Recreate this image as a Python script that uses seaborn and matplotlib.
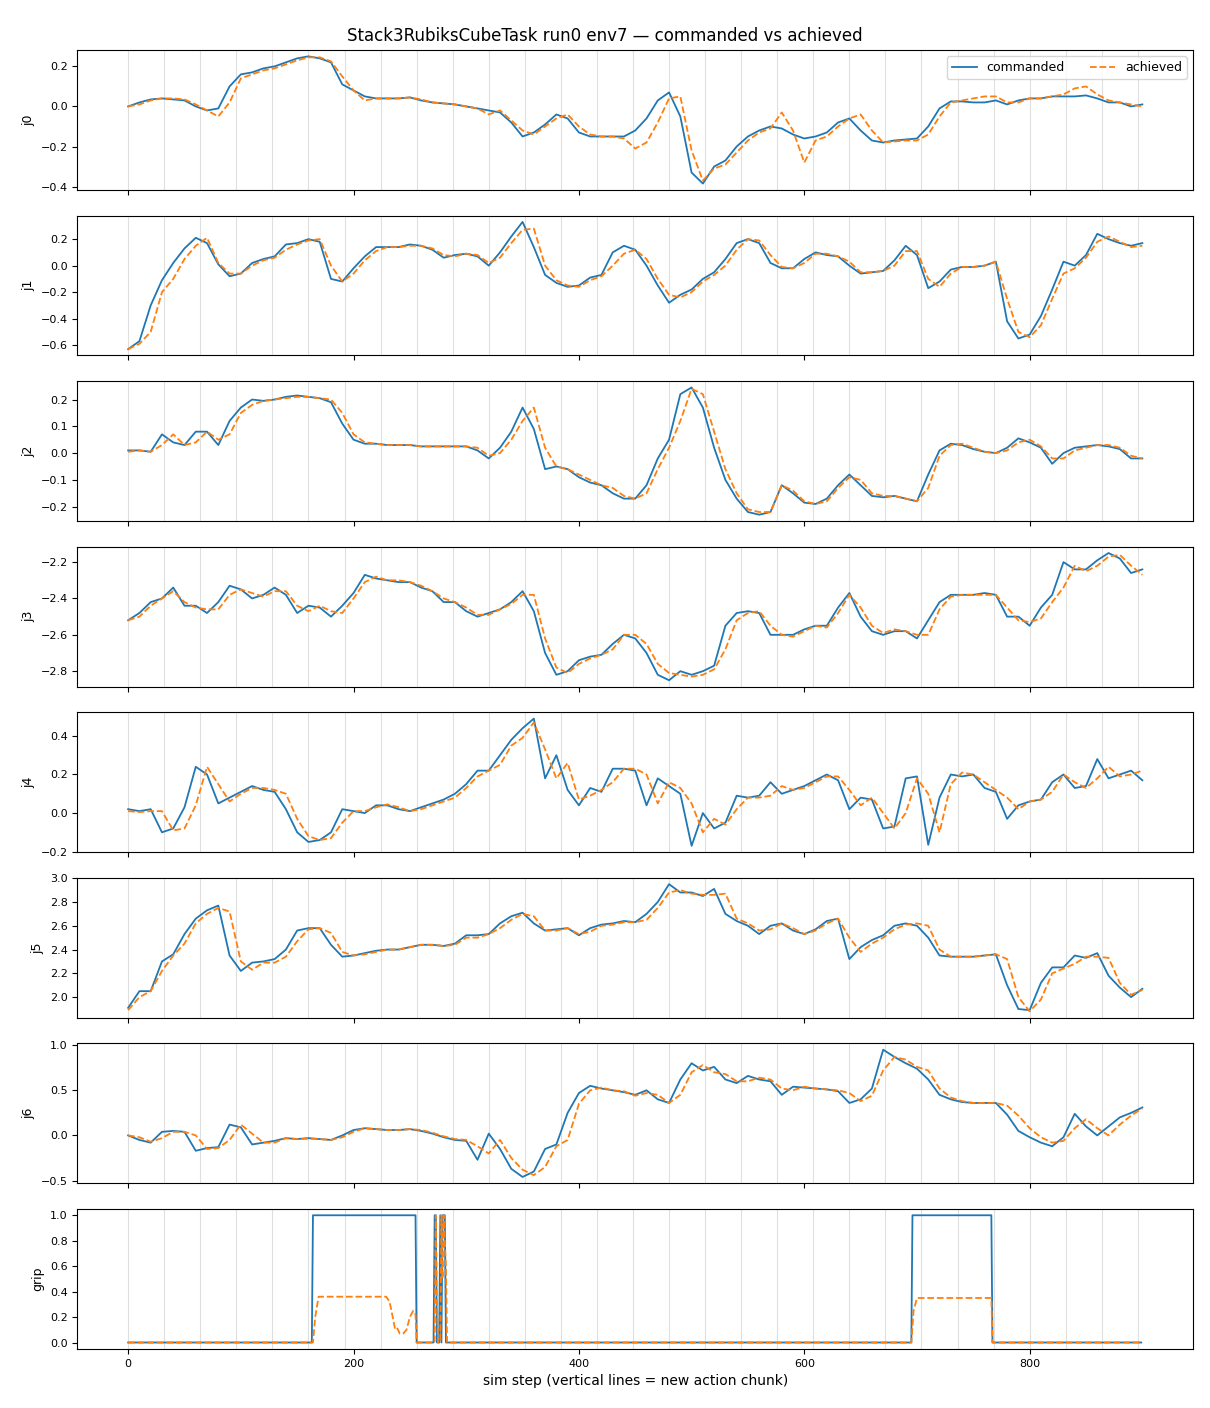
import numpy as np
import pandas as pd
import seaborn as sns
import matplotlib.pyplot as plt

# values every 10 sim steps
steps = np.arange(0, 901, 10)
chunk_size = 32

j0_cmd = [0.00, 0.02, 0.035, 0.04, 0.035, 0.03, 0.00, -0.02, -0.01, 0.10,
          0.16, 0.17, 0.19, 0.20, 0.22, 0.24, 0.25, 0.24, 0.22, 0.11,
          0.08, 0.05, 0.04, 0.04, 0.04, 0.045, 0.03, 0.02, 0.015, 0.01,
          0.00, -0.01, -0.02, -0.03, -0.08, -0.15, -0.13, -0.09, -0.04, -0.06,
          -0.13, -0.15, -0.15, -0.15, -0.15, -0.12, -0.06, 0.03, 0.07, -0.05,
          -0.33, -0.385, -0.30, -0.27, -0.20, -0.15, -0.12, -0.10, -0.11, -0.14,
          -0.16, -0.15, -0.13, -0.08, -0.06, -0.12, -0.17, -0.18, -0.17, -0.165,
          -0.16, -0.10, -0.01, 0.025, 0.025, 0.02, 0.02, 0.03, 0.01, 0.03,
          0.04, 0.04, 0.05, 0.05, 0.05, 0.055, 0.04, 0.02, 0.02, 0.00,
          0.01]
j0_ach = [0.00, 0.01, 0.03, 0.04, 0.04, 0.035, 0.01, -0.02, -0.05, 0.02,
          0.14, 0.16, 0.18, 0.19, 0.21, 0.23, 0.245, 0.245, 0.225, 0.15,
          0.08, 0.03, 0.04, 0.04, 0.04, 0.045, 0.035, 0.02, 0.015, 0.01,
          0.00, -0.01, -0.04, -0.02, -0.07, -0.12, -0.14, -0.10, -0.06, -0.04,
          -0.10, -0.14, -0.15, -0.15, -0.16, -0.21, -0.18, -0.08, 0.04, 0.05,
          -0.22, -0.37, -0.31, -0.29, -0.23, -0.17, -0.13, -0.11, -0.03, -0.12,
          -0.28, -0.17, -0.15, -0.10, -0.06, -0.04, -0.12, -0.18, -0.175, -0.17,
          -0.17, -0.14, -0.05, 0.02, 0.03, 0.04, 0.05, 0.05, 0.02, 0.02,
          0.04, 0.04, 0.05, 0.06, 0.09, 0.10, 0.06, 0.03, 0.02, 0.01,
          0.00]

j1_cmd = [-0.63, -0.57, -0.30, -0.11, 0.02, 0.13, 0.21, 0.17, 0.01, -0.08,
          -0.06, 0.02, 0.05, 0.07, 0.16, 0.17, 0.20, 0.18, -0.10, -0.12,
          -0.02, 0.07, 0.14, 0.14, 0.14, 0.16, 0.15, 0.12, 0.06, 0.08,
          0.09, 0.07, 0.00, 0.10, 0.22, 0.33, 0.14, -0.07, -0.13, -0.16,
          -0.15, -0.09, -0.07, 0.10, 0.15, 0.12, 0.00, -0.15, -0.28, -0.22,
          -0.18, -0.10, -0.05, 0.05, 0.17, 0.20, 0.17, 0.02, -0.02, -0.02,
          0.05, 0.10, 0.08, 0.07, 0.00, -0.06, -0.05, -0.04, 0.04, 0.15,
          0.08, -0.17, -0.12, -0.03, -0.01, -0.01, 0.00, 0.03, -0.42, -0.55,
          -0.52, -0.38, -0.18, 0.03, 0.00, 0.08, 0.24, 0.20, 0.17, 0.15,
          0.17]
j1_ach = [-0.63, -0.59, -0.50, -0.20, -0.10, 0.05, 0.15, 0.21, 0.02, -0.06,
          -0.06, 0.00, 0.04, 0.06, 0.12, 0.16, 0.19, 0.20, 0.00, -0.12,
          -0.06, 0.04, 0.11, 0.14, 0.14, 0.15, 0.15, 0.13, 0.08, 0.07,
          0.09, 0.08, 0.02, 0.06, 0.17, 0.27, 0.28, 0.00, -0.11, -0.15,
          -0.16, -0.11, -0.08, 0.00, 0.09, 0.12, 0.05, -0.10, -0.22, -0.24,
          -0.20, -0.12, -0.07, 0.00, 0.12, 0.20, 0.19, 0.08, -0.01, -0.02,
          0.02, 0.09, 0.09, 0.07, 0.03, -0.05, -0.05, -0.04, 0.00, 0.11,
          0.11, -0.10, -0.16, -0.06, -0.01, -0.01, 0.00, 0.03, -0.25, -0.50,
          -0.54, -0.45, -0.25, -0.06, -0.02, 0.06, 0.18, 0.22, 0.18, 0.14,
          0.15]

j2_cmd = [0.01, 0.01, 0.005, 0.07, 0.04, 0.03, 0.08, 0.08, 0.03, 0.12,
          0.17, 0.20, 0.195, 0.20, 0.21, 0.215, 0.21, 0.205, 0.19, 0.11,
          0.05, 0.035, 0.035, 0.03, 0.03, 0.03, 0.025, 0.025, 0.025, 0.025,
          0.025, 0.01, -0.02, 0.02, 0.08, 0.17, 0.09, -0.06, -0.05, -0.06,
          -0.09, -0.11, -0.12, -0.15, -0.17, -0.17, -0.12, -0.02, 0.05, 0.22,
          0.245, 0.17, 0.02, -0.10, -0.17, -0.22, -0.23, -0.22, -0.12, -0.15,
          -0.185, -0.19, -0.17, -0.12, -0.08, -0.12, -0.16, -0.165, -0.16, -0.17,
          -0.18, -0.08, 0.01, 0.035, 0.03, 0.015, 0.005, 0.00, 0.02, 0.055,
          0.04, 0.02, -0.04, 0.00, 0.02, 0.025, 0.03, 0.025, 0.015, -0.02,
          -0.02]
j2_ach = [0.005, 0.01, 0.005, 0.03, 0.07, 0.03, 0.04, 0.08, 0.05, 0.07,
          0.15, 0.18, 0.195, 0.20, 0.205, 0.21, 0.21, 0.205, 0.20, 0.15,
          0.07, 0.04, 0.035, 0.03, 0.03, 0.03, 0.025, 0.025, 0.025, 0.025,
          0.025, 0.02, -0.01, 0.00, 0.05, 0.12, 0.17, 0.02, -0.05, -0.06,
          -0.08, -0.10, -0.12, -0.13, -0.16, -0.17, -0.15, -0.06, 0.02, 0.12,
          0.24, 0.22, 0.08, -0.06, -0.15, -0.21, -0.22, -0.22, -0.12, -0.14,
          -0.18, -0.19, -0.18, -0.13, -0.09, -0.10, -0.15, -0.16, -0.16, -0.17,
          -0.18, -0.13, -0.01, 0.03, 0.035, 0.02, 0.005, 0.00, 0.01, 0.04,
          0.05, 0.025, -0.02, -0.02, 0.01, 0.02, 0.03, 0.03, 0.02, -0.01,
          -0.02]

j3_cmd = [-2.52, -2.48, -2.42, -2.40, -2.34, -2.44, -2.44, -2.48, -2.42, -2.33,
          -2.35, -2.40, -2.38, -2.34, -2.38, -2.48, -2.44, -2.45, -2.50, -2.44,
          -2.37, -2.27, -2.29, -2.30, -2.31, -2.31, -2.34, -2.36, -2.42, -2.42,
          -2.47, -2.50, -2.48, -2.46, -2.42, -2.36, -2.47, -2.70, -2.82, -2.80,
          -2.74, -2.72, -2.71, -2.65, -2.60, -2.62, -2.70, -2.82, -2.85, -2.80,
          -2.82, -2.80, -2.77, -2.55, -2.48, -2.47, -2.48, -2.60, -2.60, -2.60,
          -2.57, -2.55, -2.55, -2.45, -2.37, -2.50, -2.58, -2.60, -2.58, -2.58,
          -2.62, -2.52, -2.42, -2.38, -2.38, -2.38, -2.37, -2.38, -2.50, -2.50,
          -2.55, -2.45, -2.38, -2.20, -2.24, -2.24, -2.19, -2.15, -2.18, -2.26,
          -2.24]
j3_ach = [-2.52, -2.50, -2.44, -2.40, -2.36, -2.42, -2.45, -2.46, -2.46, -2.38,
          -2.35, -2.37, -2.39, -2.36, -2.36, -2.44, -2.47, -2.44, -2.47, -2.48,
          -2.40, -2.31, -2.28, -2.30, -2.30, -2.31, -2.33, -2.36, -2.40, -2.42,
          -2.45, -2.49, -2.49, -2.46, -2.43, -2.38, -2.38, -2.62, -2.78, -2.81,
          -2.76, -2.73, -2.71, -2.68, -2.60, -2.60, -2.65, -2.76, -2.81, -2.82,
          -2.83, -2.82, -2.79, -2.68, -2.52, -2.48, -2.47, -2.55, -2.60, -2.61,
          -2.58, -2.55, -2.56, -2.48, -2.38, -2.45, -2.55, -2.59, -2.57, -2.58,
          -2.60, -2.60, -2.46, -2.39, -2.38, -2.38, -2.38, -2.38, -2.45, -2.52,
          -2.53, -2.51, -2.42, -2.34, -2.22, -2.25, -2.22, -2.17, -2.16, -2.22,
          -2.27]

j4_cmd = [0.02, 0.01, 0.02, -0.10, -0.08, 0.03, 0.24, 0.20, 0.05, 0.08,
          0.11, 0.14, 0.12, 0.11, 0.02, -0.10, -0.15, -0.14, -0.10, 0.02,
          0.01, 0.00, 0.04, 0.04, 0.02, 0.01, 0.03, 0.05, 0.07, 0.10,
          0.15, 0.22, 0.22, 0.30, 0.38, 0.44, 0.49, 0.18, 0.30, 0.12,
          0.04, 0.13, 0.11, 0.23, 0.23, 0.22, 0.04, 0.18, 0.14, 0.10,
          -0.17, 0.00, -0.08, -0.05, 0.09, 0.08, 0.09, 0.16, 0.10, 0.12,
          0.14, 0.17, 0.20, 0.17, 0.02, 0.08, 0.07, -0.08, -0.07, 0.18,
          0.19, -0.165, 0.08, 0.20, 0.19, 0.20, 0.13, 0.11, -0.03, 0.04,
          0.06, 0.07, 0.16, 0.20, 0.13, 0.14, 0.28, 0.18, 0.20, 0.22,
          0.17]
j4_ach = [0.01, 0.005, 0.01, 0.01, -0.09, -0.08, 0.04, 0.24, 0.15, 0.06,
          0.10, 0.13, 0.13, 0.12, 0.10, -0.03, -0.12, -0.14, -0.13, -0.05,
          0.01, 0.01, 0.03, 0.045, 0.03, 0.01, 0.02, 0.04, 0.06, 0.08,
          0.13, 0.19, 0.22, 0.25, 0.35, 0.39, 0.47, 0.33, 0.18, 0.26,
          0.07, 0.09, 0.12, 0.16, 0.23, 0.23, 0.20, 0.05, 0.16, 0.13,
          0.05, -0.10, -0.03, -0.06, 0.02, 0.08, 0.08, 0.09, 0.14, 0.12,
          0.13, 0.16, 0.19, 0.19, 0.12, 0.04, 0.08, 0.00, -0.08, 0.00,
          0.18, 0.10, -0.10, 0.15, 0.21, 0.20, 0.16, 0.12, 0.08, 0.02,
          0.06, 0.07, 0.11, 0.20, 0.16, 0.13, 0.18, 0.24, 0.19, 0.20,
          0.22]

j5_cmd = [1.91, 2.05, 2.05, 2.30, 2.36, 2.53, 2.66, 2.73, 2.77, 2.35,
          2.22, 2.29, 2.30, 2.32, 2.40, 2.56, 2.58, 2.58, 2.44, 2.34,
          2.35, 2.37, 2.39, 2.40, 2.40, 2.42, 2.44, 2.44, 2.43, 2.45,
          2.52, 2.52, 2.53, 2.62, 2.68, 2.71, 2.62, 2.56, 2.57, 2.58,
          2.52, 2.58, 2.61, 2.62, 2.64, 2.63, 2.70, 2.80, 2.95, 2.88,
          2.88, 2.85, 2.91, 2.70, 2.64, 2.60, 2.53, 2.60, 2.62, 2.56,
          2.53, 2.57, 2.64, 2.66, 2.32, 2.42, 2.48, 2.52, 2.60, 2.62,
          2.60, 2.50, 2.35, 2.34, 2.34, 2.34, 2.35, 2.36, 2.10, 1.90,
          1.89, 2.12, 2.25, 2.25, 2.35, 2.33, 2.37, 2.18, 2.08, 2.00,
          2.07]
j5_ach = [1.89, 2.00, 2.05, 2.22, 2.35, 2.45, 2.62, 2.70, 2.75, 2.72,
          2.30, 2.23, 2.29, 2.29, 2.34, 2.47, 2.57, 2.58, 2.54, 2.38,
          2.35, 2.36, 2.38, 2.40, 2.40, 2.42, 2.44, 2.44, 2.43, 2.44,
          2.50, 2.50, 2.53, 2.58, 2.65, 2.70, 2.68, 2.56, 2.56, 2.58,
          2.53, 2.55, 2.60, 2.61, 2.63, 2.63, 2.65, 2.75, 2.88, 2.90,
          2.87, 2.86, 2.86, 2.87, 2.66, 2.62, 2.56, 2.57, 2.62, 2.58,
          2.53, 2.56, 2.62, 2.66, 2.50, 2.38, 2.45, 2.50, 2.57, 2.61,
          2.62, 2.60, 2.40, 2.34, 2.34, 2.34, 2.35, 2.36, 2.32, 2.00,
          1.88, 1.98, 2.20, 2.24, 2.28, 2.34, 2.34, 2.33, 2.12, 2.02,
          2.06]

j6_cmd = [0.00, -0.05, -0.08, 0.04, 0.05, 0.04, -0.17, -0.14, -0.13, 0.12,
          0.09, -0.10, -0.08, -0.06, -0.03, -0.04, -0.03, -0.04, -0.05, 0.00,
          0.06, 0.08, 0.07, 0.06, 0.06, 0.07, 0.05, 0.02, -0.02, -0.05,
          -0.06, -0.27, 0.02, -0.15, -0.37, -0.46, -0.40, -0.15, -0.10, 0.25,
          0.47, 0.55, 0.52, 0.50, 0.48, 0.45, 0.50, 0.40, 0.36, 0.62,
          0.80, 0.72, 0.76, 0.62, 0.58, 0.66, 0.62, 0.60, 0.45, 0.54,
          0.53, 0.52, 0.51, 0.49, 0.36, 0.40, 0.52, 0.95, 0.87, 0.80,
          0.74, 0.62, 0.45, 0.40, 0.37, 0.36, 0.36, 0.36, 0.23, 0.05,
          -0.02, -0.08, -0.12, -0.02, 0.24, 0.10, 0.00, 0.10, 0.20, 0.25,
          0.31]
j6_ach = [0.00, -0.02, -0.07, -0.03, 0.04, 0.04, 0.00, -0.15, -0.14, -0.05,
          0.12, 0.02, -0.08, -0.08, -0.03, -0.04, -0.035, -0.04, -0.05, -0.02,
          0.04, 0.08, 0.07, 0.06, 0.06, 0.07, 0.06, 0.03, -0.01, -0.04,
          -0.05, -0.12, -0.20, -0.05, -0.25, -0.38, -0.44, -0.35, -0.12, -0.05,
          0.35, 0.50, 0.53, 0.50, 0.49, 0.44, 0.47, 0.45, 0.36, 0.45,
          0.70, 0.78, 0.70, 0.68, 0.60, 0.60, 0.64, 0.62, 0.52, 0.50,
          0.54, 0.52, 0.51, 0.50, 0.47, 0.38, 0.44, 0.72, 0.87, 0.84,
          0.76, 0.72, 0.52, 0.42, 0.38, 0.36, 0.36, 0.36, 0.33, 0.22,
          0.08, -0.02, -0.08, -0.06, 0.08, 0.18, 0.08, 0.00, 0.12, 0.22,
          0.30]

# gripper: step signal, given at its change points
grip_cmd_x = [0, 163, 164, 255, 256, 271, 272, 273, 274, 276, 277, 278, 279,
              281, 282, 695, 696, 766, 767, 899]
grip_cmd_y = [0, 0, 1, 1, 0, 0, 1, 1, 0, 0, 1, 0, 1, 1, 0, 0, 1, 1, 0, 0]
grip_ach_x = [0, 164, 166, 169, 229, 232, 235, 237, 239, 241, 244, 247, 250,
              253, 255, 256, 272, 273, 274, 275, 277, 278, 279, 280, 282, 283,
              695, 697, 700, 766, 767, 899]
grip_ach_y = [0, 0, 0.2, 0.36, 0.36, 0.32, 0.19, 0.10, 0.11, 0.07, 0.07, 0.10,
              0.20, 0.25, 0.22, 0.0, 0.0, 1.0, 0.3, 0.0, 0.0, 1.0, 0.5, 1.0,
              0.6, 0.0, 0.0, 0.25, 0.35, 0.35, 0.0, 0.0]

joint_names = ['j0', 'j1', 'j2', 'j3', 'j4', 'j5', 'j6']
cmd_series = [j0_cmd, j1_cmd, j2_cmd, j3_cmd, j4_cmd, j5_cmd, j6_cmd]
ach_series = [j0_ach, j1_ach, j2_ach, j3_ach, j4_ach, j5_ach, j6_ach]

fig, axes = plt.subplots(8, 1, figsize=(12.1, 14.08), sharex=True)
fig.subplots_adjust(left=0.064, right=0.986, top=0.9645, bottom=0.042, hspace=0.183)

chunk_starts = np.arange(0, 900, chunk_size)

def draw_panel(ax, xc, yc, xa, ya, name, legend=False):
    for c in chunk_starts:
        ax.axvline(c, color='0.5', alpha=0.25, lw=0.8, zorder=0)
    sns.lineplot(x=xc, y=yc, ax=ax, color='#1f77b4', lw=1.3,
                 label='commanded' if legend else None, estimator=None, sort=False)
    sns.lineplot(x=xa, y=ya, ax=ax, color='#ff7f0e', lw=1.3, linestyle='--',
                 label='achieved' if legend else None, estimator=None, sort=False)
    ax.set_ylabel(name, fontsize=9)
    ax.tick_params(labelsize=8)
    if legend:
        ax.legend(loc='upper right', ncol=2, fontsize=9)
    elif ax.get_legend() is not None:
        ax.get_legend().remove()

for i, name in enumerate(joint_names):
    draw_panel(axes[i], steps, cmd_series[i], steps, ach_series[i], name, legend=(i == 0))

draw_panel(axes[7], grip_cmd_x, grip_cmd_y, grip_ach_x, grip_ach_y, 'grip')
axes[7].set_xlabel('sim step (vertical lines = new action chunk)', fontsize=10)

fig.suptitle('Stack3RubiksCubeTask run0 env7 \u2014 commanded vs achieved', fontsize=12, y=0.981)

plt.savefig('out.png', dpi=100)
plt.close()
